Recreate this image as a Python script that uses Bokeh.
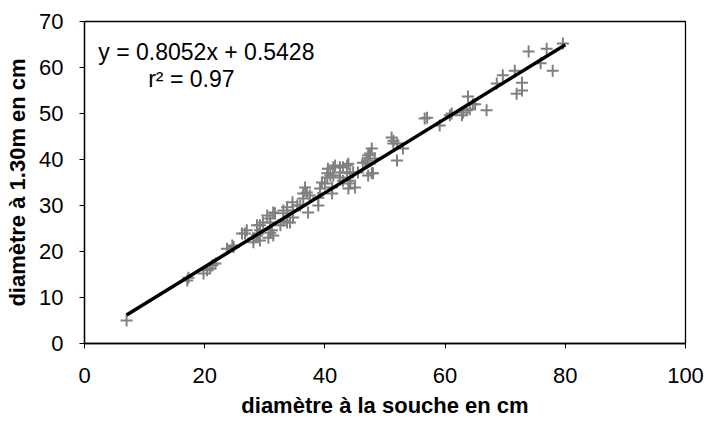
from bokeh.plotting import figure
from bokeh.models import Range1d, FixedTicker, Label, ColumnDataSource
from bokeh.embed import file_html
from bokeh.resources import INLINE

# data
diam_souche = [7.0, 17.1, 17.3, 19.8, 20.4, 20.9, 21.3, 21.8, 23.7, 24.6, 24.8,
               26.2, 26.7, 27.0, 28.1, 28.1, 28.7, 28.7, 28.9, 29.2, 29.2, 29.2, 29.7,
               30.4, 30.6, 30.9, 30.9, 30.9, 31.2, 31.4, 31.4, 31.7,
               32.6, 33.1, 33.1, 33.7, 33.7, 33.7, 34.2, 34.6, 34.7, 34.7,
               35.4, 35.9, 36.4, 36.4, 36.7, 37.0, 37.2, 37.5,
               38.9, 38.9, 39.2, 39.5, 40.0, 40.4, 40.4, 40.5, 40.9,
               41.2, 41.2, 41.4, 41.4, 41.7, 42.5, 42.5, 42.5, 43.0, 43.0, 43.7, 43.7, 43.9, 43.9,
               44.2, 44.2, 44.2, 44.7, 45.0, 45.5,
               46.3, 46.7, 47.0, 47.2, 47.2, 47.5, 47.8, 47.8, 48.0, 48.3,
               51.1, 51.4, 51.4, 52.0, 52.0, 53.0,
               56.6, 57.0,
               59.1, 60.8, 61.1, 62.8, 63.0, 63.6, 63.8, 64.1, 64.6, 65.0, 66.9,
               68.6, 69.6, 71.6, 71.9, 72.8, 72.8, 73.9, 75.9, 76.9, 77.9, 79.6]
diam_130 = [5.0, 13.7, 14.3, 15.2, 15.9, 16.3, 17.0, 17.4, 20.6, 21.3, 21.0,
            23.9, 23.9, 24.6, 22.8, 22.0, 23.5, 25.7, 23.9, 22.4, 24.6, 25.7, 26.3,
            27.8, 23.0, 24.1, 27.2, 26.3, 24.6, 28.5, 23.5, 28.3,
            25.7, 26.7, 28.9, 29.6, 28.3, 26.3, 26.3, 30.7, 27.4, 28.9,
            30.0, 30.0, 32.6, 31.5, 33.9, 32.8, 28.5, 32.2,
            31.7, 30.0, 33.7, 35.0, 34.8, 36.1, 37.0, 38.0, 36.5,
            33.9, 32.6, 38.3, 36.5, 38.7, 36.1, 37.2, 38.3, 35.4, 38.3, 38.7, 37.2, 33.7, 39.1,
            37.0, 34.8, 35.4, 37.2, 33.9, 37.2,
            39.3, 39.3, 39.8, 36.5, 40.9, 41.3, 42.4, 37.0, 37.0, 40.2,
            44.8, 44.1, 43.5, 43.5, 39.8, 42.4,
            48.9, 49.1,
            47.4, 49.6, 50.0, 49.6, 50.2, 50.7, 53.7, 50.9, 52.0, 52.0, 50.7,
            56.5, 58.3, 59.3, 54.3, 56.7, 55.0, 63.5, 60.9, 64.1, 59.3, 65.2]

slope = 0.8052
intercept = 0.5428
r2 = 0.97
trend_x = [7.0, 80.0]
trend_y = [slope * v + intercept for v in trend_x]

x_ticks = [0, 20, 40, 60, 80, 100]
y_ticks = [0, 10, 20, 30, 40, 50, 60, 70]

FONT = "Liberation Sans"

p = figure(width=709, height=423, x_range=Range1d(0, 100), y_range=Range1d(0, 70),
           output_backend="svg", toolbar_location=None,
           min_border_left=84, min_border_right=24, min_border_top=21, min_border_bottom=80)
p.background_fill_color = "white"
p.border_fill_color = "white"
p.outline_line_color = "black"
p.outline_line_width = 1.3
p.xgrid.visible = False
p.ygrid.visible = False

src = ColumnDataSource(data=dict(x=diam_souche, y=diam_130))
p.scatter("x", "y", source=src, marker="cross", size=12, line_color="#808080", line_width=2)
p.line(trend_x, trend_y, line_color="black", line_width=3.5)

for ax, ticks in ((p.xaxis[0], x_ticks), (p.yaxis[0], y_ticks)):
    ax.ticker = FixedTicker(ticks=ticks)
    ax.minor_tick_line_color = None
    ax.major_tick_in = 0
    ax.major_tick_out = 5
    ax.major_tick_line_color = "black"
    ax.axis_line_color = "black"
    ax.axis_line_width = 1.3
    ax.major_label_text_font = FONT
    ax.major_label_text_font_size = "22px"
    ax.major_label_text_color = "black"
    ax.axis_label_text_font = FONT
    ax.axis_label_text_font_size = "22px"
    ax.axis_label_text_font_style = "bold"
    ax.axis_label_text_color = "black"

p.xaxis[0].axis_label = "diamètre à la souche en cm"
p.xaxis[0].major_label_standoff = 19
p.xaxis[0].axis_label_standoff = 7
p.yaxis[0].axis_label = "diamètre à 1.30m en cm"
p.yaxis[0].major_label_standoff = 16
p.yaxis[0].axis_label_standoff = 6

p.add_layout(Label(x=2.3, y=63.3, text="y = %.4fx + %.4f" % (slope, intercept),
                   text_font=FONT, text_font_size="23px", text_baseline="middle",
                   text_color="black"))
p.add_layout(Label(x=10.6, y=57.5, text="r² = %.2f" % r2,
                   text_font=FONT, text_font_size="23px", text_baseline="middle",
                   text_color="black"))

open("out.html", "w").write(file_html(p, INLINE))
